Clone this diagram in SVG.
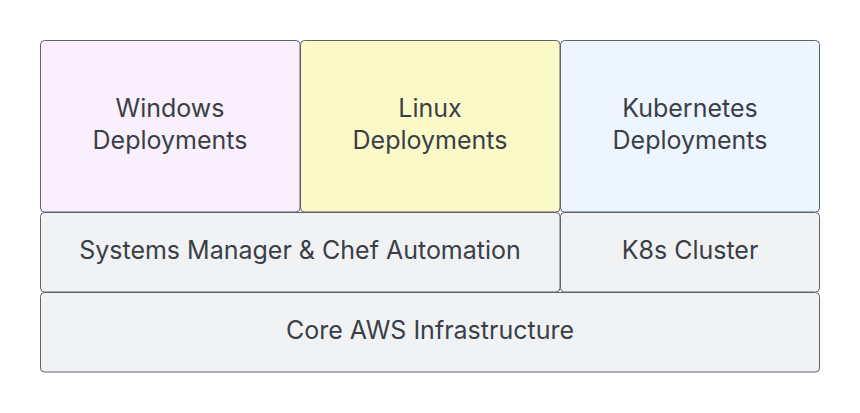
<svg xmlns="http://www.w3.org/2000/svg" width="860" height="413" viewBox="0 0 860 413">
<style>
.box{stroke:#5f636b;stroke-width:1}
.t{font-family:Inter,"Liberation Sans",sans-serif;font-size:25px;fill:#3a3f47;text-anchor:middle}
</style>
<rect width="860" height="413" fill="#ffffff"/>
<g id="windows"><rect class="box" x="40.5" y="40.5" width="259.5" height="171.5" rx="4" fill="#faf0fd"/>
<text class="t" x="170" y="117">Windows</text><text class="t" x="170" y="149">Deployments</text></g>
<g id="linux"><rect class="box" x="300.5" y="40.5" width="259.5" height="171.5" rx="4" fill="#fcf9c9"/>
<text class="t" x="430" y="117">Linux</text><text class="t" x="430" y="149">Deployments</text></g>
<g id="kubernetes"><rect class="box" x="560.5" y="40.5" width="259" height="171.5" rx="4" fill="#edf5ff"/>
<text class="t" x="690" y="117">Kubernetes</text><text class="t" x="690" y="149">Deployments</text></g>
<g id="systems-manager"><rect class="box" x="40.5" y="212.5" width="519.5" height="79.5" rx="4" fill="#f1f2f4"/>
<text class="t" x="300" y="259">Systems Manager &amp; Chef Automation</text></g>
<g id="k8s-cluster"><rect class="box" x="560.5" y="212.5" width="259" height="79.5" rx="4" fill="#f1f2f4"/>
<text class="t" x="690" y="259">K8s Cluster</text></g>
<g id="core-aws"><rect class="box" x="40.5" y="292.5" width="779" height="79.5" rx="4" fill="#f1f2f4"/>
<text class="t" x="430" y="339">Core AWS Infrastructure</text></g>
<g id="connectors"></g>
</svg>
